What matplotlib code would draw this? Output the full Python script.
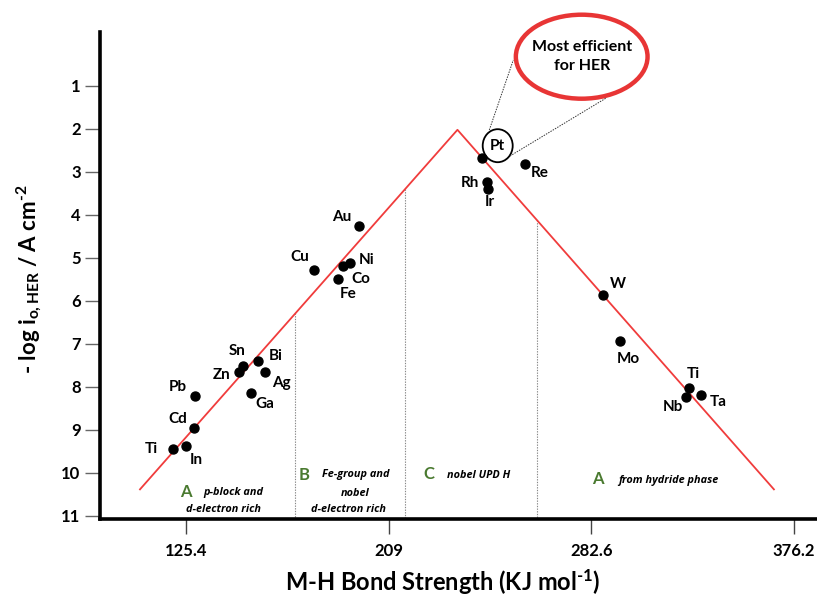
import numpy as np
import matplotlib
matplotlib.use("Agg")
import matplotlib.pyplot as plt
from matplotlib.patches import Ellipse
from matplotlib.lines import Line2D

plt.rcParams['font.family'] = ['Lato', 'DejaVu Sans']
plt.rcParams['mathtext.fontset'] = 'custom'
plt.rcParams['mathtext.rm'] = 'Lato:bold'
plt.rcParams['mathtext.it'] = 'Lato:bold'
plt.rcParams['mathtext.bf'] = 'Lato:bold'
plt.rcParams['mathtext.default'] = 'rm'

# data (M-H bond strength kJ/mol, -log i0)
metals = ['Ti', 'In', 'Cd', 'Pb', 'Zn', 'Sn', 'Bi', 'Ag', 'Ga', 'Cu', 'Au', 'Ni', 'Co', 'Fe',
          'Pt', 'Re', 'Rh', 'Ir', 'W', 'Mo', 'Ti', 'Nb', 'Ta']
bond = [119.9, 125.3, 128.7, 129.2, 147.1, 148.9, 155.2, 158.1, 152.1, 178.3, 196.9, 193.0, 190.3, 188.3,
        243.0, 258.4, 244.8, 245.0, 288.2, 295.9, 327.6, 326.2, 333.3]
log_i0 = [9.45, 9.38, 8.96, 8.21, 7.66, 7.52, 7.41, 7.66, 8.14, 5.29, 4.26, 5.11, 5.18, 5.50,
          2.67, 2.82, 3.23, 3.40, 5.87, 6.93, 8.02, 8.23, 8.19]

volcano_x = [106.4, 234.0, 367.0]
volcano_y = [10.39, 2.02, 10.39]
region_bounds = [170.5, 215.0, 262.8]

tick_vals = [125.4, 209, 282.6, 376.2]

# label offsets in pixels (dx right, dy down)
label_off = [(-21, 0), (11, 14), (-16, -9), (-17, -9), (-17, 3), (-6, -15), (17, -5), (16, 11), (14, 11),
             (-14, -13), (-18, -9), (17, -3), (17, 13), (10, 15),
             None, (15, 9), (-17, 1), (2, 13), (15, -11), (8, 18), (5, -14), (-13, 10), (17, 7)]

W, H = 817, 597
tp = np.arange(len(tick_vals), dtype=float)
tv = np.array(tick_vals)


def fwd(v):
    v = np.asarray(v, dtype=float)
    p = np.interp(v, tv, tp)
    p = np.where(v < tv[0], (v - tv[0]) / (tv[1] - tv[0]), p)
    p = np.where(v > tv[-1], tp[-1] + (v - tv[-1]) / (tv[-1] - tv[-2]), p)
    return p


def inv(p):
    p = np.asarray(p, dtype=float)
    v = np.interp(p, tp, tv)
    v = np.where(p < 0, tv[0] + p * (tv[1] - tv[0]), v)
    v = np.where(p > tp[-1], tv[-1] + (p - tp[-1]) * (tv[-1] - tv[-2]), v)
    return v


def fxy(px, py):
    return px / W, 1 - py / H


fig = plt.figure(figsize=(W / 100, H / 100), dpi=100)
ax = fig.add_axes([100 / W, 1 - 519 / H, 717 / W, 487 / H])
ax.set_xscale('function', functions=(fwd, inv))
ax.set_xlim(89.9, 386.9)
ax.set_ylim(11.08, -0.257)

red = '#f03c3c'
ax.plot(volcano_x, volcano_y, color=red, lw=1.3, zorder=2)

# dotted region separators from red line down to axis
pv = fwd(volcano_x)
for b in region_bounds:
    ytop = np.interp(fwd(b), pv, volcano_y)
    ax.plot([b, b], [ytop, 11.08], color='#888888', lw=0.8, ls=(0, (1.2, 1.2)), zorder=1)

ax.scatter(bond, log_i0, s=42, color='black', zorder=3)

for name, x, y, off in zip(metals, bond, log_i0, label_off):
    if off is None:
        continue
    ax.annotate(name, (x, y), xytext=(off[0], -off[1]), textcoords='offset pixels',
                ha='center', va='center', fontsize=11, fontweight='bold')

# axes styling
for s in ['top', 'right']:
    ax.spines[s].set_visible(False)
ax.spines['left'].set_linewidth(2.6)
ax.spines['bottom'].set_linewidth(2.6)
ax.set_yticks(range(1, 12))
ax.set_yticklabels([str(i) for i in range(1, 12)], fontsize=12, fontweight='bold')
ax.tick_params(axis='y', length=11, width=1, color='#666666', pad=3)
ax.set_xticks(tick_vals)
ax.set_xticklabels([str(t) for t in tick_vals], fontsize=12, fontweight='bold')
ax.tick_params(axis='x', length=11, width=1, color='#444444', pad=6)

fig.text(*fxy(29, 279), r'- log i$_{o,HER}$ / A cm$^{\text{-2}}$', rotation=90, ha='center', va='center',
         fontsize=16, fontweight='bold')
fig.text(*fxy(443, 591), r'M-H Bond Strength (KJ mol$^{\text{-1}}$)', ha='center', va='baseline',
         fontsize=17, fontweight='bold')

# region annotations
green = '#4a7a30'
region_txt = [
    ((186, 492), 'A', 'green'), ((233, 492), 'p-block and', 'it'), ((223, 510), 'd-electron rich', 'it'),
    ((303.7, 475), 'B', 'green'), ((355.5, 475), 'Fe-group and', 'it'), ((355, 493), 'nobel', 'it'),
    ((348.3, 510), 'd-electron rich', 'it'),
    ((428.7, 474), 'C', 'green'), ((478.5, 475), 'nobel UPD H', 'it'),
    ((597.7, 479), 'A', 'green'), ((668, 480), 'from hydride phase', 'it'),
]
for (px, py), t, kind in region_txt:
    if kind == 'green':
        fig.text(*fxy(px, py), t, color=green, fontsize=12, fontweight='bold', ha='center', va='center')
    else:
        fig.text(*fxy(px, py), t, fontsize=7.8, fontweight='bold', style='italic', ha='center', va='center',
                 family=['Open Sans', 'DejaVu Sans'])

# callout
fig.patches.append(Ellipse(fxy(581.7, 56.7), 131.7 / W, 84 / H, transform=fig.transFigure,
                           fill=False, ec='#e83535', lw=3.2))
fig.text(*fxy(581.7, 56.7), 'Most efficient\nfor HER', ha='center', va='center', fontsize=11.5,
         fontweight='bold', linespacing=1.4)
fig.patches.append(Ellipse(fxy(497.7, 145.7), 30 / W, 33 / H, transform=fig.transFigure,
                           fill=False, ec='black', lw=1.3))
fig.text(*fxy(497.7, 145.7), 'Pt', ha='center', va='center', fontsize=11, fontweight='bold')
for (x0, y0), (x1, y1) in [((489.3, 130), (513.3, 60)), ((510, 156), (606.7, 97.7))]:
    a, b = fxy(x0, y0), fxy(x1, y1)
    fig.lines.append(Line2D([a[0], b[0]], [a[1], b[1]], transform=fig.transFigure,
                            color='#333333', lw=0.7, ls=(0, (1.5, 1.2))))

fig.savefig('out.png', dpi=100)
